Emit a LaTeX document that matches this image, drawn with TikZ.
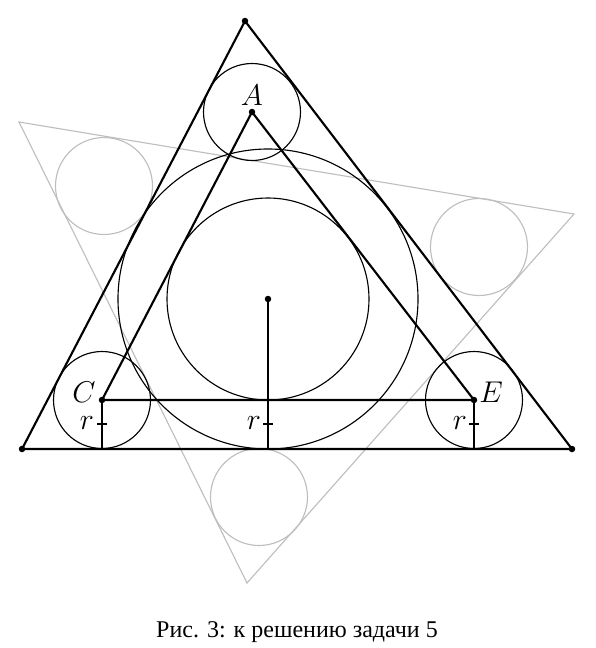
\documentclass[tikz,border=0pt]{standalone}
\usepackage{fontspec}
\newfontfamily\capfont{Liberation Serif}
\begin{document}
\begin{tikzpicture}[x=0.4pt,y=-0.4pt,
  thickline/.style={line width=0.85pt,black},
  thinline/.style={line width=0.45pt,black},
  grayline/.style={line width=0.45pt,draw={rgb,255:red,190;green,190;blue,190}},
  dot/.style={circle,fill=black,inner sep=0pt,minimum size=2.6pt},
  lbl/.style={inner sep=0pt,font=\fontsize{12.5}{14}\selectfont}]
\useasboundingbox (0,0) rectangle (595,648);
% coordinates
\coordinate (T) at (245,21);
\coordinate (L) at (22,449);
\coordinate (R) at (572,449);
\coordinate (A) at (252,112);
\coordinate (C) at (102,400);
\coordinate (E) at (474,400);
\coordinate (O) at (268,299);
\coordinate (Cb) at (102,449);
\coordinate (Ob) at (268,449);
\coordinate (Eb) at (474,449);
\coordinate (G1) at (19,122);
\coordinate (G2) at (574,214);
\coordinate (G3) at (247,583);
% gray star parts
\draw[grayline] (G1) -- (G2) -- (G3) -- cycle;
\draw[grayline] (104,186) circle (48.5);
\draw[grayline] (479,247) circle (48.5);
\draw[grayline] (259,497) circle (48.5);
% circles
\draw[thinline] (O) circle (150);
\draw[thinline] (O) circle (101);
\draw[thinline] (A) circle (48.5);
\draw[thinline] (C) circle (48.5);
\draw[thinline] (E) circle (48.5);
% triangles
\draw[thickline] (T) -- (L) -- (R) -- cycle;
\draw[thickline] (A) -- (C) -- (E) -- cycle;
% radii
\draw[thinline] (C) -- (Cb);
\draw[thickline] (O) -- (Ob);
\draw[thinline] (E) -- (Eb);
\draw[thinline] (97,424) -- (107,424);
\draw[thinline] (263,424) -- (273,424);
\draw[thinline] (469,424) -- (479,424);
% dots
\foreach \p in {T,L,R,A,C,E,O} \node[dot] at (\p) {};
% labels
\node[lbl] (lA) at (252,95) {$A$};
\node[lbl] (lC) at (84,392) {$C$};
\node[lbl] (lE) at (491,392) {$E$};
\node[lbl] (r1) at (87,423) {$r$};
\node[lbl] (r2) at (254,423) {$r$};
\node[lbl] (r3) at (460,423) {$r$};
\node[inner sep=0pt,font=\capfont\fontsize{9.6}{11}\selectfont] (cap) at (297,632) {Рис. 3: к решению задачи 5};
\end{tikzpicture}
\end{document}
